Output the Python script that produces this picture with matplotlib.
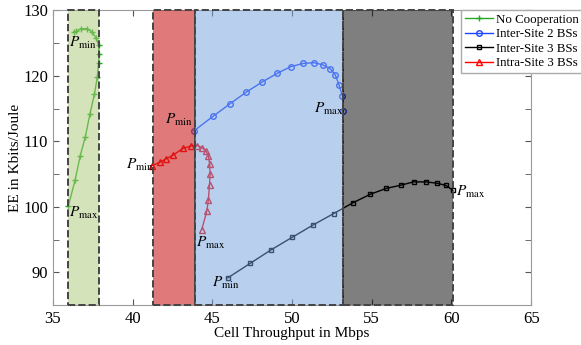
import numpy as np
import matplotlib.pyplot as plt

plt.rcParams['font.family'] = ['Liberation Serif', 'DejaVu Serif']
plt.rcParams['mathtext.fontset'] = 'stix'

# Curves: cell throughput (Mbps) vs EE (Kbits/Joule), from P_min to P_max
nocoop_x = [36.3, 36.44, 36.76, 37.13, 37.45, 37.7, 37.86, 37.89, 37.86,
            37.78, 37.6, 37.32, 37.03, 36.71, 36.39, 35.96]
nocoop_y = [126.7, 126.8, 127.2, 127.2, 126.7, 125.8, 124.7, 123.3, 121.9,
            119.8, 117.2, 114.2, 110.7, 107.8, 104.1, 100.1]

inter2_x = [43.85, 45.03, 46.09, 47.12, 48.12, 49.08, 49.92, 50.71, 51.38,
            51.91, 52.39, 52.72, 52.95, 53.16, 53.22]
inter2_y = [111.6, 113.8, 115.7, 117.5, 119.05, 120.4, 121.4, 121.9, 122.0,
            121.7, 121.1, 120.1, 118.6, 116.9, 114.7]

inter3_x = [45.97, 47.37, 48.67, 50.02, 51.34, 52.6, 53.81, 54.9, 55.9,
            56.83, 57.62, 58.4, 59.09, 59.67, 60.09]
inter3_y = [89.15, 91.35, 93.4, 95.35, 97.25, 98.95, 100.6, 101.9, 102.8,
            103.3, 103.8, 103.8, 103.6, 103.25, 102.5]

intra3_x = [41.23, 41.7, 42.07, 42.55, 43.14, 43.68, 44.06, 44.38, 44.6,
            44.75, 44.83, 44.86, 44.82, 44.75, 44.65, 44.33]
intra3_y = [106.3, 106.8, 107.3, 107.9, 108.9, 109.3, 109.35, 109.0, 108.5,
            107.8, 106.5, 105.0, 103.4, 101.1, 99.3, 96.5]

# Shaded throughput ranges (x0, x1, rgba)
spans = [(35.96, 37.9, (0.68, 0.79, 0.47, 0.5)),
         (41.3, 43.9, (0.80, 0.13, 0.13, 0.6)),
         (43.9, 53.2, (0.45, 0.64, 0.87, 0.5)),
         (53.2, 60.1, (0.0, 0.0, 0.0, 0.5))]

fig = plt.figure(figsize=(5.81, 3.45), dpi=100)
ax = fig.add_axes([0.0912, 0.116, 0.823, 0.854])

ax.plot(nocoop_x, nocoop_y, color='#22aa22', lw=1, marker='+', ms=4.5,
        label='No Cooperation')
ax.plot(inter2_x, inter2_y, color='#2244ff', lw=1, marker='o', ms=4,
        mfc='none', label='Inter-Site 2 BSs')
ax.plot(inter3_x, inter3_y, color='k', lw=1, marker='s', ms=3,
        mfc='none', label='Inter-Site 3 BSs')
ax.plot(intra3_x, intra3_y, color='#ff0000', lw=1, marker='^', ms=4,
        mfc='none', label='Intra-Site 3 BSs')

# spans drawn over the lines, so lines get tinted like the original
for x0, x1, col in spans:
    ax.axvspan(x0, x1, facecolor=col, edgecolor='#444444', ls='--', lw=1.4,
               zorder=3, clip_on=False)

# P_min / P_max annotations
pmin = r'$P_{\rm min}$'
pmax = r'$P_{\rm max}$'
fs = 11
ax.text(36.0, 125.0, pmin, fontsize=fs, ha='left', va='center', zorder=5)
ax.text(36.0, 99.0, pmax, fontsize=fs, ha='left', va='center', zorder=5)
ax.text(41.3, 106.4, pmin, fontsize=fs, ha='right', va='center', zorder=5)
ax.text(44.0, 94.4, pmax, fontsize=fs, ha='left', va='center', zorder=5)
ax.text(43.8, 113.3, pmin, fontsize=fs, ha='right', va='center', zorder=5)
ax.text(53.2, 114.9, pmax, fontsize=fs, ha='right', va='center', zorder=5)
ax.text(45.0, 88.3, pmin, fontsize=fs, ha='left', va='center', zorder=5)
ax.text(60.3, 102.2, pmax, fontsize=fs, ha='left', va='center', zorder=5)

ax.set_xlim(35, 65)
ax.set_ylim(85, 130)
ax.set_xticks(np.arange(35, 66, 5))
ax.set_yticks(np.arange(90, 131, 10))
ax.set_yticks(np.arange(85, 131, 5), minor=True)
ax.tick_params(which='both', direction='in', top=True, right=True,
               labelsize=12, color='#555555', length=4)
ax.tick_params(axis='x', pad=4)
for s in ax.spines.values():
    s.set_color('#9a9a9a')
ax.set_xlabel('Cell Throughput in Mbps', fontsize=11, labelpad=0)
ax.set_ylabel('EE in Kbits/Joule', fontsize=11, labelpad=1)

leg = ax.legend(loc='upper left', bbox_to_anchor=(461 / 581, 0.972),
                bbox_transform=fig.transFigure, fontsize=9.3, frameon=True,
                fancybox=False, edgecolor='#aaaaaa', framealpha=1,
                handlelength=2.2, handletextpad=0.2, borderpad=0.3,
                labelspacing=0.2, borderaxespad=0)
leg.set_zorder(6)

fig.savefig('out.png', dpi=100)
